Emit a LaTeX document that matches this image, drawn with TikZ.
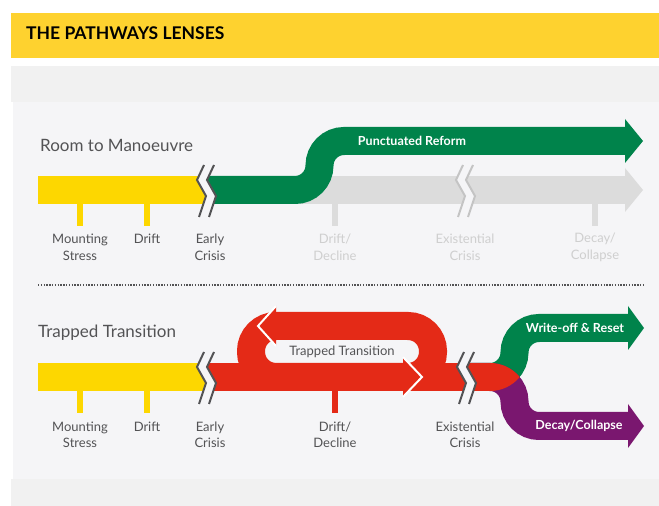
\documentclass[tikz,border=0pt]{standalone}
\usepackage{fontspec}
\setmainfont{Lato}
\usepackage{xcolor}
\usetikzlibrary{positioning}

\definecolor{hdryellow}{HTML}{FED22F}
\definecolor{baryellow}{HTML}{FDD700}
\definecolor{pathgreen}{HTML}{00834B}
\definecolor{pathred}{HTML}{E42A17}
\definecolor{pathpurple}{HTML}{7A176F}
\definecolor{fadegrey}{HTML}{DCDCDC}
\definecolor{fadetext}{HTML}{CFCFCF}
\definecolor{fadeline}{HTML}{C4C4C4}
\definecolor{txtgrey}{HTML}{535355}
\definecolor{panel}{HTML}{F5F5F7}
\definecolor{stripe}{HTML}{F1F1F1}

% break mark across a bar: left x, top y, bottom y, line colour
\newcommand{\breakmark}[4]{%
  \fill [panel] (#1+7,#2+11) -- (#1,#2-4) -- (#1+9,#3+8) -- (#1+2,#3-13)
    -- (#1+12,#3-13) -- (#1+19,#3+8) -- (#1+10,#2-4) -- (#1+17,#2+11) -- cycle;
  \draw [#4,line width=2] (#1+7,#2+11) -- (#1,#2-4) -- (#1+9,#3+8) -- (#1+2,#3-13);
  \draw [#4,line width=2] (#1+17,#2+11) -- (#1+10,#2-4) -- (#1+19,#3+8) -- (#1+12,#3-13);
}

\begin{document}
\begin{tikzpicture}[
    x=1pt, y=1pt,
    lbl/.style={%
      font=\fontsize{13}{16.5}\selectfont,
      text=txtgrey,
      align=center,
    },
    faded/.style={lbl, text=fadetext},
    heading/.style={%
      font=\fontsize{17}{20}\selectfont,
      text=txtgrey,
      anchor=base west,
      inner sep=0pt,
    },
    onband/.style={%
      font=\bfseries\fontsize{12.5}{15}\selectfont,
      text=white,
    },
    band/.style={line width=28, rounded corners=24.5},
  ]

    \useasboundingbox (0,0) rectangle (659,506);

    % backgrounds
    \fill [white] (0,0) rectangle (659,506);
    \fill [hdryellow] (11,448) rectangle (659,493);
    \fill [stripe] (11,404) rectangle (659,440);
    \fill [panel] (13,27) rectangle (659,404);
    \fill [stripe] (11,0) rectangle (659,27);
    \node [anchor=base west, inner sep=0pt, font=\bfseries\fontsize{17.5}{20}\selectfont] (title) at (26,466) {THE PATHWAYS LENSES};

    % room to manoeuvre
    \node [heading] (roomT) at (40,354) {Room to Manoeuvre};
    \fill [fadegrey] (300,302) rectangle (626,330);
    \fill [fadegrey] (625,338) -- (643,316) -- (625,294) -- cycle;
    \fill [baryellow] (38,302) rectangle (206.5,330);
    \draw [pathgreen, band] (206.5,316) -- (319.5,316) -- (319.5,365) -- (626,365);
    \fill [pathgreen] (625,387) -- (643,365) -- (625,343) -- cycle;
    \node [onband] (reform) at (412,365) {Punctuated Reform};
    \breakmark{197}{330}{302}{txtgrey}
    \breakmark{456}{330}{302}{fadeline}
    \foreach \x in {80,147} {
      \fill [baryellow] (\x-3,302) rectangle (\x+3,280);
    }
    \foreach \x in {335,595} {
      \fill [fadegrey] (\x-3,302) rectangle (\x+3,280);
    }
    \node [lbl] (stressA) at (80,258.5) {Mounting\\Stress};
    \node [lbl] (driftA) at (147,267) {Drift};
    \node [lbl] (earlyA) at (210,258.5) {Early\\Crisis};
    \node [faded] (declineA) at (335,258.5) {Drift/\\Decline};
    \node [faded] (existA) at (465,258.5) {Existential\\Crisis};
    \node [faded] (collapseA) at (595,258.5) {Decay/\\Collapse};

    \draw [txtgrey, line width=1.4, dash pattern=on 1.4pt off 1.4pt] (38,221) -- (643,221);

    % trapped transition
    \node [heading] (trapT) at (38,168) {Trapped Transition};
    \fill [baryellow] (38,115) rectangle (206.5,143);
    \draw [pathgreen, band] (470,129) -- (514.5,129) -- (514.5,178) -- (629,178);
    \fill [pathgreen] (628,200) -- (644,178) -- (628,156) -- cycle;
    \draw [pathpurple, band] (470,129) -- (514.5,129) -- (514.5,80) -- (629,80);
    \fill [pathpurple] (628,102) -- (644,80) -- (628,58) -- cycle;
    \fill [pathred] (206.5,115) rectangle (490.5,143);
    \fill [pathred] (490,143) arc [start angle=90, end angle=39.5, radius=38.5]
      arc [start angle=-39.5, end angle=-90, radius=38.5] -- cycle;
    \draw [pathred, line width=28, rounded corners=25] (251,129) rectangle (433,180);
    \fill [pathred] (276,200) -- (258,180) -- (276,160) -- cycle;
    \draw [white, line width=2] (276,200) -- (258,180) -- (276,160);
    \fill [pathred] (403,149) -- (422,129) -- (403,109) -- cycle;
    \draw [white, line width=2] (403,149) -- (422,129) -- (403,109);
    \node [lbl] (loop) at (342,154.5) {Trapped Transition};
    \node [onband] (reset) at (575,178) {Write-off \& Reset};
    \node [onband] (decay) at (579,80) {Decay/Collapse};
    \breakmark{197}{143}{115}{txtgrey}
    \breakmark{457}{143}{115}{txtgrey}
    \foreach \x in {80,147} {
      \fill [baryellow] (\x-3,115) rectangle (\x+3,93);
    }
    \fill [pathred] (332,115) rectangle (338,93);
    \node [lbl] (stressB) at (80,71) {Mounting\\Stress};
    \node [lbl] (driftB) at (147,79) {Drift};
    \node [lbl] (earlyB) at (210,71) {Early\\Crisis};
    \node [lbl] (declineB) at (335,71) {Drift/\\Decline};
    \node [lbl] (existB) at (465,71) {Existential\\Crisis};
\end{tikzpicture}
\end{document}
